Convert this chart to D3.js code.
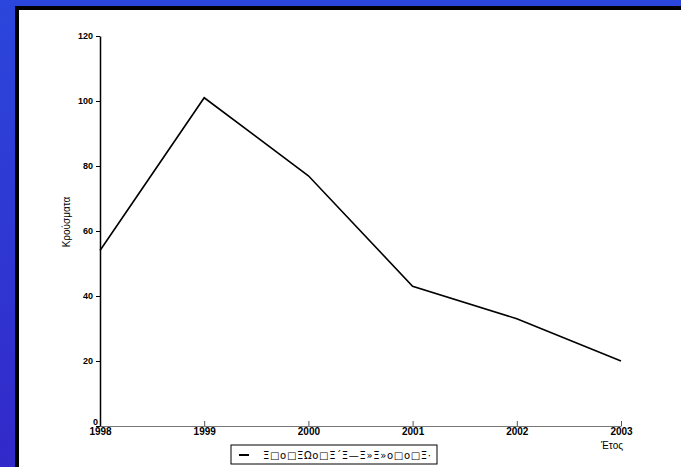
<!DOCTYPE html>
<html>
<head>
<meta charset="utf-8">
<script src="https://cdn.jsdelivr.net/npm/d3@7"></script>
<style>
  html, body { margin: 0; padding: 0; }
  body { width: 681px; height: 467px; overflow: hidden; }
</style>
</head>
<body>
<div id="chart"></div>
<script>
const years = [1998, 1999, 2000, 2001, 2002, 2003]
const cases = [54, 101, 77, 43, 33, 20]
const yTicks = [0, 20, 40, 60, 80, 100, 120]
const yLabel = "Κρούσματα"
const xLabel = "Έτος"
const legendText = "Ξ□ο□ΞΩο□Ξ΄Ξ—Ξ»Ξ»ο□ο□Ξ·"

const W = 681, H = 467
const plot = {left: 100, right: 621, top: 36, bottom: 426}

const svg = d3.select("#chart")
    .append("svg")
    .attr("width", W)
    .attr("height", H)

// blue slide background
const grad = svg.append("defs").append("linearGradient")
    .attr("id", "bg").attr("x1", 0).attr("y1", 0).attr("x2", 0).attr("y2", 1)
grad.append("stop").attr("offset", "0%").attr("stop-color", "#2b46dc")
grad.append("stop").attr("offset", "100%").attr("stop-color", "#3229c9")

svg.append("rect")
    .attr("width", W).attr("height", H)
    .attr("fill", "url(#bg)")

// white panel with black frame
svg.append("rect")
    .attr("x", 15).attr("y", 6)
    .attr("width", W).attr("height", H)
    .attr("fill", "#000")
svg.append("rect")
    .attr("x", 19).attr("y", 10)
    .attr("width", W).attr("height", H)
    .attr("fill", "#fff")

var x = d3.scaleLinear()
    .domain([1998, 2003])
    .range([plot.left, plot.right])

var y = d3.scaleLinear()
    .domain([0, 120])
    .range([plot.bottom, plot.top])

// x axis, ticks pointing up
const gx = svg.append("g")
    .attr("transform", "translate(0," + plot.bottom + ")")
    .call(d3.axisBottom(x).tickValues(years).tickFormat(d3.format("d"))
        .tickSizeInner(-5).tickSizeOuter(0).tickPadding(2))
gx.select(".domain").attr("stroke", "#777").attr("stroke-width", 1.2)
gx.selectAll(".tick line").attr("stroke", "#555")
gx.selectAll("text")
    .style("font-family", "Liberation Sans, Arial, sans-serif")
    .style("font-weight", "bold")
    .style("font-size", "10px")
    .attr("fill", "#000")

// y axis
const gy = svg.append("g")
    .attr("transform", "translate(" + plot.left + ",0)")
    .call(d3.axisLeft(y).tickValues(yTicks).tickSizeInner(4).tickSizeOuter(0).tickPadding(3))
gy.select(".domain").attr("stroke", "#000").attr("stroke-width", 1.5)
gy.selectAll(".tick line").attr("stroke", "#000")
gy.selectAll("text")
    .style("font-family", "Liberation Sans, Arial, sans-serif")
    .style("font-weight", "bold")
    .style("font-size", "9px")
    .attr("fill", "#000")
// the zero label sits a little higher so it clears 1998
gy.selectAll(".tick").filter(function(d) { return d === 0 })
    .select("text").attr("x", -2).attr("y", -4)

// the line
var line = d3.line()
    .x(function(d, i) { return x(years[i]) })
    .y(function(d) { return y(d) })

svg.append("path")
    .datum(cases)
    .attr("d", line)
    .attr("fill", "none")
    .attr("stroke", "#000")
    .attr("stroke-width", 1.6)

// axis titles
svg.append("text")
    .attr("transform", "translate(70,222)rotate(-90)")
    .attr("text-anchor", "middle")
    .style("font-family", "Liberation Sans, Arial, sans-serif")
    .style("font-size", "10px")
    .text(yLabel)

svg.append("text")
    .attr("x", 612).attr("y", 449)
    .attr("text-anchor", "middle")
    .style("font-family", "Liberation Sans, Arial, sans-serif")
    .style("font-size", "10px")
    .text(xLabel)

// legend
const lg = svg.append("g").attr("transform", "translate(231,445)")
lg.append("rect")
    .attr("width", 206).attr("height", 19)
    .attr("fill", "#fff")
    .attr("stroke", "#000")
    .attr("stroke-width", 1)
lg.append("line")
    .attr("x1", 8).attr("x2", 18)
    .attr("y1", 10).attr("y2", 10)
    .attr("stroke", "#000").attr("stroke-width", 2)
lg.append("text")
    .attr("x", 32).attr("y", 14)
    .attr("textLength", 168)
    .style("font-family", "DejaVu Sans, sans-serif")
    .style("font-size", "10px")
    .text(legendText)
</script>
</body>
</html>
